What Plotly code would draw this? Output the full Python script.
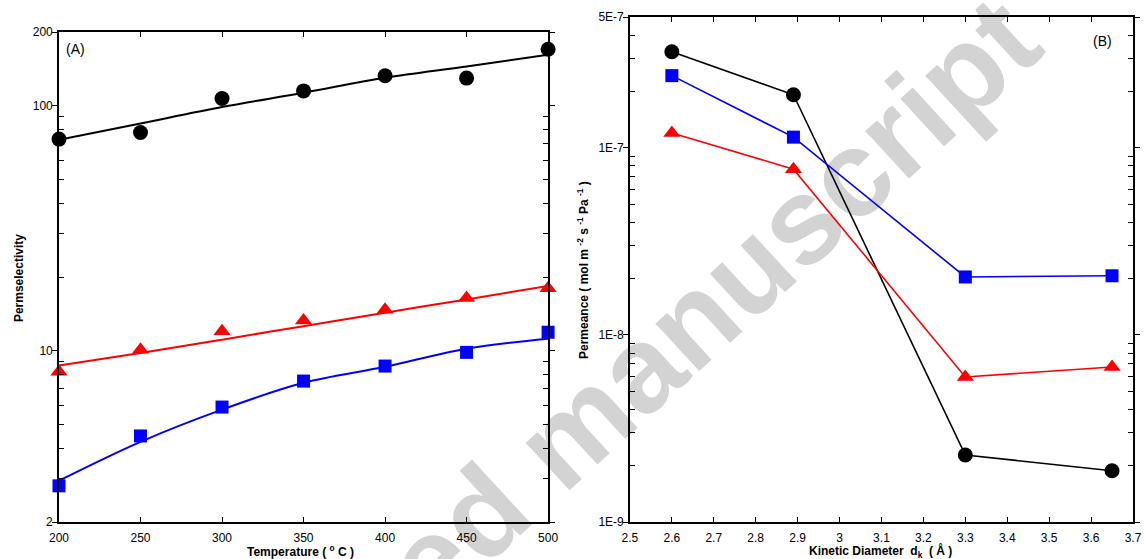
import math
import plotly.graph_objects as go

# ---------------- data ----------------
# Panel A: permselectivity vs temperature
temps = [200, 250, 300, 350, 400, 450, 500]
sel_black = [73.1, 77.8, 107.1, 115.0, 132.6, 129.7, 170.0]
fit_black = [72.6, 84.7, 98.8, 113.0, 130.1, 144.7, 161.6]
sel_red = [8.2, 10.1, 12.0, 13.3, 14.7, 16.4, 18.0]
fit_red = [8.7, 9.8, 11.1, 12.6, 14.3, 16.2, 18.4]
sel_blue = [2.81, 4.49, 5.89, 7.52, 8.66, 9.85, 11.9]
fit_blue = [2.95, 4.25, 5.75, 7.4, 8.6, 10.2, 11.2]

# Panel B: permeance vs kinetic diameter
dk = [2.6, 2.89, 3.3, 3.65]
perm_black = [3.26e-7, 1.92e-7, 2.28e-9, 1.88e-9]
perm_blue = [2.43e-7, 1.14e-7, 2.04e-8, 2.07e-8]
perm_red = [1.2e-7, 7.69e-8, 5.96e-9, 6.74e-9]

a_xticks = [200, 250, 300, 350, 400, 450, 500]
a_yticks = [2, 10, 100, 200]
a_yticktext = ["2", "10", "100", "200"]
a_yminor = [3, 4, 5, 6, 7, 8, 9, 20, 30, 40, 50, 60, 70, 80, 90]
b_xticks = [2.5, 2.6, 2.7, 2.8, 2.9, 3.0, 3.1, 3.2, 3.3, 3.4, 3.5, 3.6, 3.7]
b_xticktext = ["2.5", "2.6", "2.7", "2.8", "2.9", "3", "3.1", "3.2", "3.3", "3.4", "3.5", "3.6", "3.7"]
b_yticks = [1e-9, 1e-8, 1e-7, 5e-7]
b_yticktext = ["1E-9", "1E-8", "1E-7", "5E-7"]
b_yminor = [2e-9, 3e-9, 4e-9, 5e-9, 6e-9, 7e-9, 8e-9, 9e-9,
            2e-8, 3e-8, 4e-8, 5e-8, 6e-8, 7e-8, 8e-8, 9e-8,
            2e-7, 3e-7, 4e-7]

# ---------------- layout geometry ----------------
W, H = 1144, 559
SX = 1152 / 1144          # the snapshot is squeezed slightly in x; pre-compensate
ML = round(59 * SX, 2)
MR = round(W - 1135 * SX, 2)
MT, MB = 17, 37
PW, PH = W - ML - MR, H - MT - MB


def P(px, py):
    """target window pixel -> paper coordinates"""
    return (px * SX - ML) / PW, (H - MB - py) / PH


FONT = "Liberation Sans, Arial, Helvetica, sans-serif"

fig = go.Figure()

# Panel A traces
for y, fit, col, sym, sz in [
    (sel_black, fit_black, "black", "circle", 15),
    (sel_red, fit_red, "#ff0000", "triangle-up", 15),
    (sel_blue, fit_blue, "#0000ff", "square", 13),
]:
    fig.add_trace(go.Scatter(x=temps, y=fit, mode="lines", line=dict(color=col, width=2, shape="spline"),
                             xaxis="x", yaxis="y", showlegend=False, hoverinfo="skip"))
    fig.add_trace(go.Scatter(x=temps, y=y, mode="markers",
                             marker=dict(color=col, symbol=sym, size=sz, line=dict(width=0)),
                             xaxis="x", yaxis="y", showlegend=False, cliponaxis=False))

# Panel B traces
for y, col, sym, sz in [
    (perm_black, "black", "circle", 15),
    (perm_blue, "#0000ff", "square", 13),
    (perm_red, "#ff0000", "triangle-up", 15),
]:
    fig.add_trace(go.Scatter(x=dk, y=y, mode="lines+markers",
                             line=dict(color=col, width=1.6),
                             marker=dict(color=col, symbol=sym, size=sz, line=dict(width=0)),
                             xaxis="x2", yaxis="y2", showlegend=False, cliponaxis=False))

axis_common = dict(showline=True, linecolor="black", linewidth=1.6, mirror="ticks",
                   showgrid=False, zeroline=False, tickcolor="black",
                   tickfont=dict(family=FONT, size=12, color="black"))

xa_right, _ = P(549, 0)
xb_left, _ = P(631, 0)
_, ya_top = P(0, 32)

fig.update_layout(
    width=W, height=H, autosize=False,
    margin=dict(l=ML, r=MR, t=MT, b=MB, pad=0),
    paper_bgcolor="white", plot_bgcolor="rgba(0,0,0,0)",
    font=dict(family=FONT, color="black"),
    xaxis=dict(domain=[0, xa_right], range=[200, 500], tickvals=a_xticks,
               ticks="inside", ticklen=5, ticklabelstandoff=4, anchor="y", **axis_common),
    yaxis=dict(domain=[0, ya_top], type="log", range=[math.log10(2), math.log10(200)],
               tickvals=a_yticks, ticktext=a_yticktext, ticks="outside", ticklen=5,
               ticklabelstandoff=-3,
               minor=dict(tickvals=a_yminor, ticks="inside", ticklen=5, tickcolor="black"),
               anchor="x", **axis_common),
    xaxis2=dict(domain=[xb_left, 1], range=[2.5, 3.7], tickvals=b_xticks, ticktext=b_xticktext,
                ticks="inside", ticklen=5, ticklabelstandoff=4, anchor="y2", **axis_common),
    yaxis2=dict(domain=[0, 1], type="log", range=[-9, math.log10(5e-7)],
                tickvals=b_yticks, ticktext=b_yticktext, ticks="outside", ticklen=5,
                ticklabelstandoff=-3,
                minor=dict(tickvals=b_yminor, ticks="inside", ticklen=5, tickcolor="black"),
                anchor="x2", **axis_common),
)

# axis titles and panel labels
def ann(px, py, text, size=12, bold=True, angle=0):
    x, y = P(px, py)
    fig.add_annotation(x=x, y=y, xref="paper", yref="paper", text=f"<b>{text}</b>" if bold else text,
                       showarrow=False, textangle=angle, xanchor="center", yanchor="middle",
                       font=dict(family=FONT, size=size, color="black"))


ann(301, 551, "Temperature ( <sup>o</sup> C )")
ann(19, 278, "Permselectivity", angle=-90)
ann(882, 551, "Kinetic Diameter  d<sub>k</sub>  ( Å )")
ann(584, 270, "Permeance ( mol m <sup>-2</sup> s <sup>-1</sup> Pa <sup>-1</sup> )", angle=-90)
ann(76, 49, "(A)", size=14, bold=False)
ann(1104, 41, "(B)", size=14, bold=False)

# watermark (drawn beneath the data)
ang = math.radians(42.5)
cx, cy, L = 555, 431, 450
x0, y0 = P(cx - L * math.cos(ang), cy + L * math.sin(ang))
x1, y1 = P(cx + L * math.cos(ang), cy - L * math.sin(ang))
fig.add_shape(type="line", xref="paper", yref="paper", x0=x0, y0=y0, x1=x1, y1=y1,
              layer="below", line=dict(color="rgba(0,0,0,0)", width=1),
              label=dict(text="<b>Accepted manuscript</b>", textposition="middle",
                         yanchor="middle", padding=0,
                         font=dict(family=FONT, size=122, color="#d3d3d3")))

# remove the default page margin so the figure sits at the window's corner
fig.write_html("out.html",
               config={"responsive": False, "displayModeBar": False},
               post_script="document.body.style.margin='0';document.body.style.overflow='hidden';")
